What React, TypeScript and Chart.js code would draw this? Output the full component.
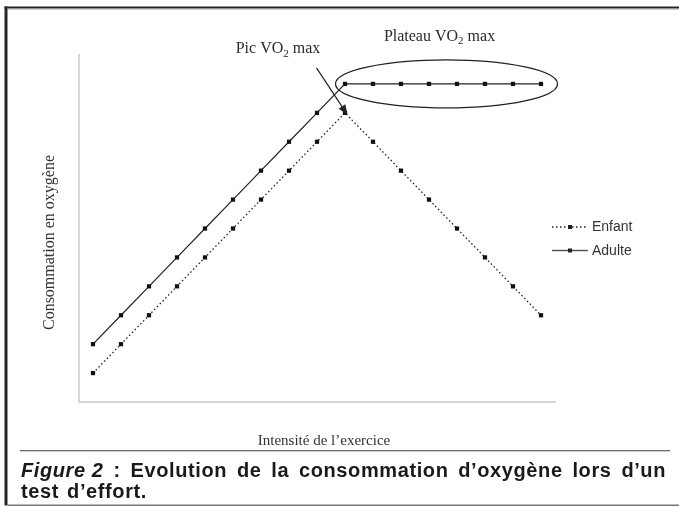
import React, { useEffect, useRef } from "react";
import { Chart, registerables } from "chart.js";

Chart.register(...registerables);

// ---- data ----
const intensites = ["1", "2", "3", "4", "5", "6", "7", "8", "9", "10", "11", "12", "13", "14", "15", "16", "17"];
const enfant = [1, 2, 3, 4, 5, 6, 7, 8, 9, 10, 9, 8, 7, 6, 5, 4, 3];
const adulte = [2, 3, 4, 5, 6, 7, 8, 9, 10, 11, 11, 11, 11, 11, 11, 11, 11];
const yMin = 0;
const yMax = 12;
const seriesNames = ["Enfant", "Adulte"];
const yTitle = "Consommation en oxygène";
const xTitle = "Intensité de l’exercice";
const picLabel = ["Pic VO", "2", " max"];
const plateauLabel = ["Plateau VO", "2", " max"];
const captionItalic = "Figure 2";
const captionLine1 = " : Evolution de la consommation d’oxygène lors d’un";
const captionLine2 = "test d’effort.";

const INK = "#222";
const SERIF = '"Liberation Serif", "Times New Roman", serif';
const SANS = '"Liberation Sans", Arial, sans-serif';
const enfantDash = [1.5, 2.5];

function drawSubText(ctx: CanvasRenderingContext2D, parts: string[], cx: number, baseline: number, size: number) {
  const big = `${size}px ${SERIF}`;
  const small = `${Math.round(size * 0.68)}px ${SERIF}`;
  ctx.font = big;
  const w0 = ctx.measureText(parts[0]).width;
  const w2 = ctx.measureText(parts[2]).width;
  ctx.font = small;
  const w1 = ctx.measureText(parts[1]).width;
  let x = cx - (w0 + w1 + w2) / 2;
  ctx.textAlign = "left";
  ctx.textBaseline = "alphabetic";
  ctx.font = big;
  ctx.fillText(parts[0], x, baseline);
  x += w0;
  ctx.font = small;
  ctx.fillText(parts[1], x, baseline + size * 0.22);
  x += w1;
  ctx.font = big;
  ctx.fillText(parts[2], x, baseline);
}

const decorPlugin = {
  id: "decor",
  afterDatasetsDraw(chart: any) {
    const ctx: CanvasRenderingContext2D = chart.ctx;
    const xs = chart.scales.x;
    const ys = chart.scales.y;
    const area = chart.chartArea;
    ctx.save();

    // ---- plateau ellipse ----
    const topA = Math.max(...adulte);
    const pStart = adulte.indexOf(topA);
    const pEnd = adulte.length - 1;
    const ex0 = xs.getPixelForValue(pStart);
    const ex1 = xs.getPixelForValue(pEnd);
    const ey = ys.getPixelForValue(topA);
    const ecx = (ex0 + ex1) / 2 + 3.5;
    const erx = (ex1 - ex0) / 2 + 13;
    ctx.strokeStyle = INK;
    ctx.lineWidth = 1.3;
    ctx.setLineDash([]);
    ctx.beginPath();
    ctx.ellipse(ecx, ey, erx, 24, 0, 0, Math.PI * 2);
    ctx.stroke();

    // ---- arrow to child peak ----
    const topE = Math.max(...enfant);
    const peakIdx = enfant.indexOf(topE);
    const tipX = xs.getPixelForValue(peakIdx) + 2.5;
    const tipY = ys.getPixelForValue(topE) + 2;
    const tailX = tipX - 31;
    const tailY = tipY - 47;
    const len = Math.hypot(tipX - tailX, tipY - tailY);
    const dx = (tipX - tailX) / len;
    const dy = (tipY - tailY) / len;
    ctx.lineWidth = 1.2;
    ctx.beginPath();
    ctx.moveTo(tailX, tailY);
    ctx.lineTo(tipX - dx * 6, tipY - dy * 6);
    ctx.stroke();
    const bx = tipX - dx * 10;
    const by = tipY - dy * 10;
    ctx.fillStyle = INK;
    ctx.beginPath();
    ctx.moveTo(tipX, tipY);
    ctx.lineTo(bx - dy * 4, by + dx * 4);
    ctx.lineTo(bx + dy * 4, by - dx * 4);
    ctx.closePath();
    ctx.fill();

    // ---- annotation labels ----
    ctx.fillStyle = "#2a2a2a";
    drawSubText(ctx, picLabel, xs.getPixelForValue(peakIdx) - 67, area.top - 2, 16);
    drawSubText(ctx, plateauLabel, ecx - 7, area.top - 14.5, 16);

    // ---- axis titles ----
    ctx.font = `15px ${SERIF}`;
    ctx.textAlign = "center";
    ctx.textBaseline = "alphabetic";
    ctx.fillStyle = "#333";
    ctx.fillText(xTitle, (area.left + area.right) / 2 + 7, area.bottom + 43);
    ctx.save();
    ctx.translate(area.left - 25, (area.top + area.bottom) / 2 + 14);
    ctx.rotate(-Math.PI / 2);
    ctx.font = `16px ${SERIF}`;
    ctx.fillText(yTitle, 0, 0);
    ctx.restore();

    // ---- legend ----
    const legendRows = [
      { name: seriesNames[0], dash: enfantDash, y: 227 },
      { name: seriesNames[1], dash: [] as number[], y: 250.5 },
    ];
    const lx0 = area.right - 3;
    const lx1 = lx0 + 36;
    for (const row of legendRows) {
      ctx.strokeStyle = row.dash.length ? INK : "#555";
      ctx.lineWidth = 1.3;
      ctx.setLineDash(row.dash);
      ctx.beginPath();
      ctx.moveTo(lx0, row.y);
      ctx.lineTo(lx1, row.y);
      ctx.stroke();
      ctx.setLineDash([]);
      ctx.fillStyle = INK;
      ctx.fillRect((lx0 + lx1) / 2 - 2, row.y - 2, 4, 4);
      ctx.font = `14px ${SANS}`;
      ctx.textAlign = "left";
      ctx.textBaseline = "middle";
      ctx.fillStyle = "#333";
      ctx.fillText(row.name, lx1 + 4, row.y + 0.5);
    }

    // ---- frame ----
    ctx.fillStyle = "#262626";
    ctx.fillRect(4.5, 6.5, 674.5, 2);
    ctx.fillRect(4.5, 6.5, 3, 499);
    ctx.fillStyle = "#9a9a9a";
    ctx.fillRect(7.5, 8.5, 671.5, 1);
    ctx.fillStyle = "#777";
    ctx.fillRect(7.5, 504.5, 671.5, 1.5);
    ctx.fillStyle = "#6a6a6a";
    ctx.fillRect(20, 450, 650, 1.3);

    // ---- caption ----
    ctx.fillStyle = "#1a1a1a";
    ctx.textAlign = "left";
    ctx.textBaseline = "alphabetic";
    const anyCtx = ctx as any;
    anyCtx.letterSpacing = "0.6px";
    const capLeft = 21;
    const capRight = 666;
    const capFont = 20;
    ctx.font = `italic bold ${capFont}px ${SANS}`;
    const wItal = ctx.measureText(captionItalic).width;
    ctx.font = `bold ${capFont}px ${SANS}`;
    const words = captionLine1.trim().split(" ");
    const wordW = words.map((w) => ctx.measureText(w).width);
    const natural = wItal + wordW.reduce((a, b) => a + b, 0);
    const gaps = words.length;
    const gap = (capRight - capLeft - natural) / gaps;
    let cx = capLeft;
    ctx.font = `italic bold ${capFont}px ${SANS}`;
    ctx.fillText(captionItalic, cx, 477);
    cx += wItal + gap;
    ctx.font = `bold ${capFont}px ${SANS}`;
    words.forEach((w, i) => {
      ctx.fillText(w, cx, 477);
      cx += wordW[i] + gap;
    });
    anyCtx.wordSpacing = "2px";
    ctx.fillText(captionLine2, capLeft, 498);
    anyCtx.wordSpacing = "0px";
    anyCtx.letterSpacing = "0px";

    ctx.restore();
  },
};

export default function App() {
  const ref = useRef<HTMLCanvasElement>(null);
  useEffect(() => {
    const chart = new Chart(ref.current as HTMLCanvasElement, {
      type: "line",
      data: {
        labels: intensites,
        datasets: [
          {
            label: seriesNames[0],
            data: enfant,
            borderColor: INK,
            borderWidth: 1.3,
            borderDash: enfantDash,
            pointStyle: "rect",
            pointRadius: 3,
            pointBorderWidth: 0,
            pointBackgroundColor: "#111",
            tension: 0,
            fill: false,
          },
          {
            label: seriesNames[1],
            data: adulte,
            borderColor: INK,
            borderWidth: 1.2,
            pointStyle: "rect",
            pointRadius: 3,
            pointBorderWidth: 0,
            pointBackgroundColor: "#111",
            tension: 0,
            fill: false,
          },
        ],
      },
      options: {
        responsive: false,
        animation: false,
        devicePixelRatio: 1,
        layout: { padding: { left: 79, right: 124, top: 55, bottom: 113 } },
        plugins: {
          legend: { display: false },
          title: { display: false },
          tooltip: { enabled: false },
        },
        scales: {
          x: {
            type: "category",
            offset: true,
            grid: { display: false, drawTicks: false },
            ticks: { display: false },
            border: { display: true, color: "#d6d6d6", width: 2 },
          },
          y: {
            type: "linear",
            min: yMin,
            max: yMax,
            grid: { display: false, drawTicks: false },
            ticks: { display: false },
            border: { display: true, color: "#d6d6d6", width: 2 },
          },
        },
      },
      plugins: [decorPlugin],
    });
    return () => chart.destroy();
  }, []);
  return (
    <div style={{ position: "absolute", left: 0, top: 0, width: 679, height: 515, background: "#fff" }}>
      <canvas ref={ref} width={679} height={515} style={{ display: "block", width: 679, height: 515 }} />
    </div>
  );
}
